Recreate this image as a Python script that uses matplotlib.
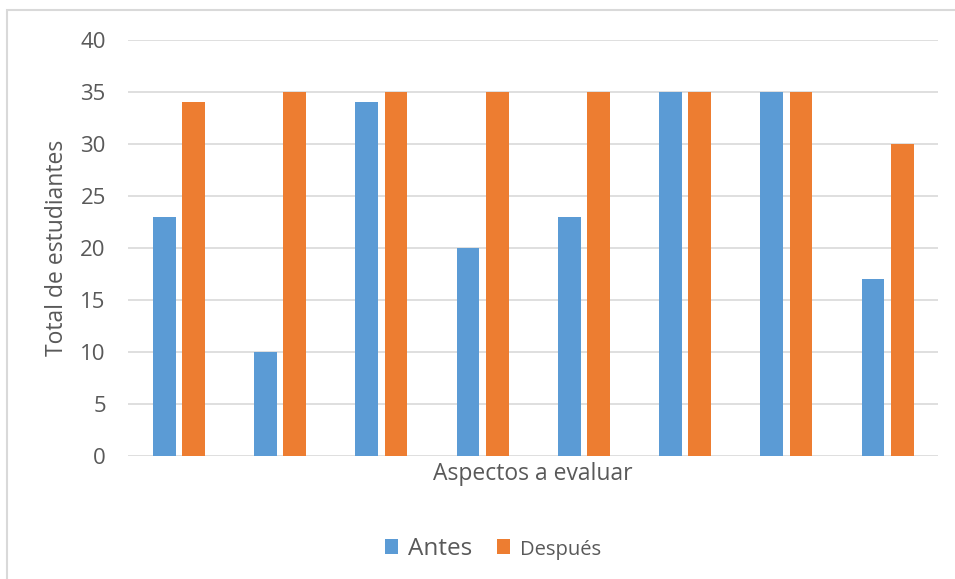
import numpy as np
import matplotlib
matplotlib.use("Agg")
import matplotlib.pyplot as plt
from matplotlib.patches import Rectangle

plt.rcParams['font.family'] = ['Open Sans', 'DejaVu Sans']

# data
aspectos = ["1", "2", "3", "4", "5", "6", "7", "8"]
antes = [23, 10, 34, 20, 23, 35, 35, 17]
despues = [34, 35, 35, 35, 35, 35, 35, 30]
yticks = [0, 5, 10, 15, 20, 25, 30, 35, 40]

azul = "#5B9BD5"
naranja = "#ED7D31"
gris_txt = "#595959"
gris_linea = "#D9D9D9"

fig = plt.figure(figsize=(9.55, 5.79), dpi=100)
ax = fig.add_axes([128/955, 1-456/579, 810/955, 416/579])

x = np.arange(len(aspectos))
w = 0.225
ax.bar(x - 0.142, antes, w, color=azul, label="Antes", zorder=3)
ax.bar(x + 0.146, despues, w, color=naranja, label="Después", zorder=3)

ax.set_xlim(-0.5, len(aspectos) - 0.5)
ax.set_ylim(0, 40)
ax.set_yticks(yticks)
ax.set_xticks([])
ax.grid(axis="y", color=gris_linea, lw=1.2, zorder=0)
ax.tick_params(axis="y", length=0, pad=16, labelsize=16, labelcolor=gris_txt)
for s in ax.spines.values():
	s.set_visible(False)

ax.set_ylabel("Total de estudiantes", fontsize=16.5, color=gris_txt, labelpad=8)
ax.set_xlabel("Aspectos a evaluar", fontsize=16.5, color=gris_txt, labelpad=4)

leg = fig.legend(loc="center", bbox_to_anchor=(493/955, 1-549/579), ncol=2, frameon=False,
	handlelength=0.55, handleheight=0.55, handletextpad=0.4, columnspacing=1.0, fontsize=17.5)
for t in leg.get_texts():
	t.set_color(gris_txt)
leg.get_texts()[1].set_fontsize(14.5)

# chart border
fig.patches.append(Rectangle((7/955, -0.1), 1.2, 1.1 - 10/579, transform=fig.transFigure,
	fill=False, edgecolor=gris_linea, lw=1.5, figure=fig))

fig.savefig("out.png", dpi=100)
